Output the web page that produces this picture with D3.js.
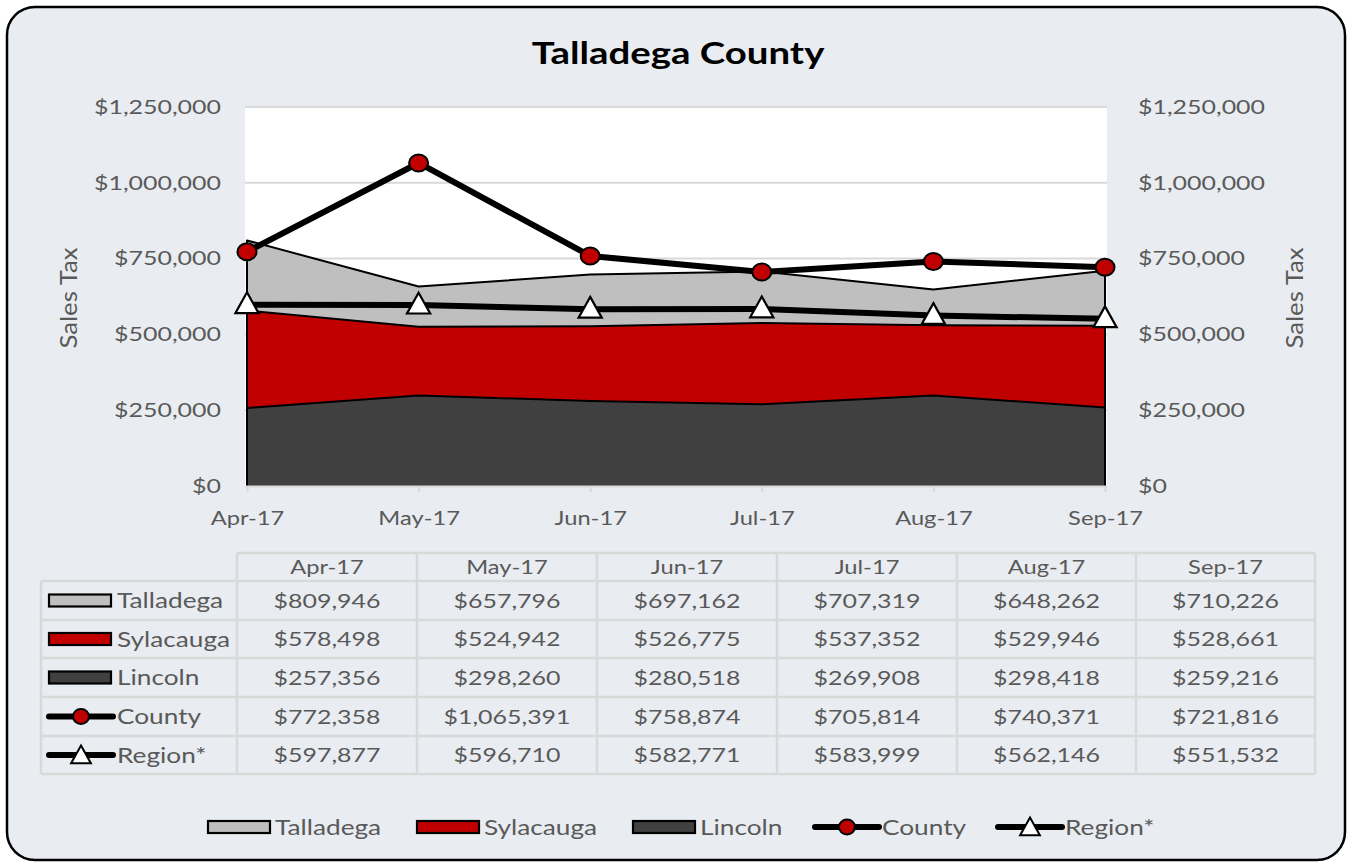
<!DOCTYPE html>
<html>
<head>
<meta charset="utf-8">
<script src="https://cdn.jsdelivr.net/npm/d3@7"></script>
<style>
  html, body { margin: 0; padding: 0; background: #ffffff; }
  svg { display: block; }
  text { font-family: Lato, "Open Sans", sans-serif; }
</style>
</head>
<body>
<svg id="chart" width="1348" height="863"></svg>
<script>
// Monthly sales tax figures
const months = ["Apr-17", "May-17", "Jun-17", "Jul-17", "Aug-17", "Sep-17"];
const talladega = [809946, 657796, 697162, 707319, 648262, 710226];
const sylacauga = [578498, 524942, 526775, 537352, 529946, 528661];
const lincoln = [257356, 298260, 280518, 269908, 298418, 259216];
const county = [772358, 1065391, 758874, 705814, 740371, 721816];
const region = [597877, 596710, 582771, 583999, 562146, 551532];
const yTicks = [0, 250000, 500000, 750000, 1000000, 1250000];

const areaSeries = [
  { name: "Talladega", values: talladega, fill: "#BFBFBF" },
  { name: "Sylacauga", values: sylacauga, fill: "#C00000" },
  { name: "Lincoln", values: lincoln, fill: "#404040" }
];
const lineSeries = [
  { name: "County", values: county, marker: "circle" },
  { name: "Region*", values: region, marker: "triangle" }
];

const TEXT = "#595959";
const GRID = "#D9D9D9";
const SX = 1.28; // horizontal widening of the text face
const svg = d3.select("#chart");

// text helper: widened glyphs anchored at (x, y)
function label(parent, x, y, str, size, anchor, extra) {
  const t = parent.append("text")
    .attr("transform", `translate(${x},${y}) scale(${SX},1)`)
    .attr("text-anchor", anchor || "start")
    .attr("dominant-baseline", "central")
    .attr("font-size", size).attr("fill", TEXT)
    .text(str);
  if (extra) extra(t);
  return t;
}

// Outer rounded panel
svg.append("rect")
  .attr("x", 7).attr("y", 7).attr("width", 1338).attr("height", 853)
  .attr("rx", 28).attr("ry", 28)
  .attr("fill", "#E9ECF1").attr("stroke", "#000").attr("stroke-width", 2.5);

// Title
label(svg, 678, 52, "Talladega County", 30, "middle",
  t => t.attr("font-weight", 700).attr("fill", "#000"));

// Plot area
const plot = { left: 245, right: 1107, top: 107, bottom: 486 };
svg.append("rect")
  .attr("x", plot.left).attr("y", plot.top)
  .attr("width", plot.right - plot.left).attr("height", plot.bottom - plot.top)
  .attr("fill", "#fff");

const x = d3.scalePoint().domain(months).range([247, 1105]);
const y = d3.scaleLinear().domain([0, 1250000]).range([plot.bottom, plot.top]);
const money = d3.format("$,");

// Horizontal gridlines
svg.append("g")
  .selectAll("line")
  .data(yTicks.filter(d => d > 0))
  .join("line")
  .attr("x1", plot.left).attr("x2", plot.right)
  .attr("y1", d => y(d)).attr("y2", d => y(d))
  .attr("stroke", GRID).attr("stroke-width", 2);

// Overlapping areas, each from zero
const areaGen = d3.area()
  .x((d, i) => x(months[i]))
  .y0(y(0))
  .y1(d => y(d));
const outlineGen = vals => {
  const pts = [[x(months[0]), y(0)]]
    .concat(vals.map((v, i) => [x(months[i]), y(v)]))
    .concat([[x(months[months.length - 1]), y(0)]]);
  return d3.line()(pts);
};
areaSeries.forEach(s => {
  svg.append("path")
    .attr("d", areaGen(s.values))
    .attr("fill", s.fill);
  svg.append("path")
    .attr("d", outlineGen(s.values))
    .attr("fill", "none")
    .attr("stroke", "#000").attr("stroke-width", 2)
    .attr("stroke-linejoin", "round");
});

// widen axis tick labels in place
function widenTicks(g) {
  g.selectAll(".tick text").each(function () {
    const t = d3.select(this);
    const tx = +t.attr("x") || 0;
    t.attr("x", tx / SX).attr("transform", `scale(${SX},1)`)
      .attr("fill", TEXT).attr("font-family", "Lato, sans-serif");
  });
}

// Category axis along zero
const xAxis = svg.append("g").attr("transform", `translate(0,${plot.bottom})`)
  .call(d3.axisBottom(x).tickSize(6).tickPadding(20));
xAxis.select(".domain").attr("d", `M${plot.left},0.5H${plot.right}`)
  .attr("stroke", GRID).attr("stroke-width", 2);
xAxis.selectAll(".tick line").attr("stroke", GRID).attr("stroke-width", 2);
xAxis.selectAll(".tick text").attr("font-size", 18.5);
widenTicks(xAxis);

// Value axes on both sides
const yLeft = svg.append("g").attr("transform", `translate(${plot.left},0)`)
  .call(d3.axisLeft(y).tickValues(yTicks).tickFormat(money).tickSize(0).tickPadding(24));
const yRight = svg.append("g").attr("transform", `translate(${plot.right},0)`)
  .call(d3.axisRight(y).tickValues(yTicks).tickFormat(money).tickSize(0).tickPadding(31));
[yLeft, yRight].forEach(g => {
  g.select(".domain").remove();
  g.selectAll(".tick text").attr("font-size", 19.5);
  widenTicks(g);
});

// Axis titles
[68, 1294].forEach(cx => {
  svg.append("text")
    .attr("transform", `translate(${cx},${298}) rotate(-90) scale(1.12,1)`)
    .attr("text-anchor", "middle").attr("dominant-baseline", "central")
    .attr("font-size", 23).attr("fill", TEXT)
    .text("Sales Tax");
});

// Lines with markers
const lineGen = d3.line().x((d, i) => x(months[i])).y(d => y(d));
const triPath = (cx, cy, s) =>
  `M${cx},${cy - s * 0.62}L${cx + s * 0.58},${cy + s * 0.42}L${cx - s * 0.58},${cy + s * 0.42}Z`;

lineSeries.slice().reverse().forEach(s => {
  svg.append("path")
    .attr("d", lineGen(s.values))
    .attr("fill", "none").attr("stroke", "#000")
    .attr("stroke-width", 6).attr("stroke-linejoin", "round");
  const g = svg.append("g");
  s.values.forEach((v, i) => {
    const cx = x(months[i]), cy = y(v);
    if (s.marker === "circle") {
      g.append("ellipse").attr("cx", cx).attr("cy", cy).attr("rx", 9.5).attr("ry", 8.5)
        .attr("fill", "#C00000").attr("stroke", "#000").attr("stroke-width", 2);
    } else {
      g.append("path").attr("d", triPath(cx, cy, 20))
        .attr("fill", "#fff").attr("stroke", "#000").attr("stroke-width", 2.2)
        .attr("stroke-linejoin", "miter");
    }
  });
});

// Legend key glyphs
function drawKey(g, s, kx, cy) {
  if (s.fill) {
    g.append("rect").attr("x", kx).attr("y", cy - 6).attr("width", 62).attr("height", 12)
      .attr("fill", s.fill).attr("stroke", "#000").attr("stroke-width", 2.2);
  } else {
    g.append("line").attr("x1", kx).attr("x2", kx + 64).attr("y1", cy).attr("y2", cy)
      .attr("stroke", "#000").attr("stroke-width", 6).attr("stroke-linecap", "round");
    const mx = kx + 32;
    if (s.marker === "circle") {
      g.append("ellipse").attr("cx", mx).attr("cy", cy).attr("rx", 8).attr("ry", 7.5)
        .attr("fill", "#C00000").attr("stroke", "#000").attr("stroke-width", 2);
    } else {
      g.append("path").attr("d", triPath(mx, cy + 1, 17))
        .attr("fill", "#fff").attr("stroke", "#000").attr("stroke-width", 2);
    }
  }
}

// Data table
const colEdges = [237, 417, 597, 777, 957, 1136, 1315];
const rowEdges = [553, 581, 620, 658, 697, 736, 774];
const labelLeft = 41;
const tableRows = areaSeries.concat(lineSeries);
const table = svg.append("g");

// cell borders
table.append("path")
  .attr("d", () => {
    let d = `M${colEdges[0]},${rowEdges[0]}H${colEdges[6]}`;
    for (let r = 1; r < rowEdges.length; r++) d += `M${labelLeft},${rowEdges[r]}H${colEdges[6]}`;
    d += `M${colEdges[0]},${rowEdges[0]}V${rowEdges[6]}`;
    for (let c = 1; c < colEdges.length; c++) d += `M${colEdges[c]},${rowEdges[0]}V${rowEdges[6]}`;
    d += `M${labelLeft},${rowEdges[1]}V${rowEdges[6]}`;
    return d;
  })
  .attr("fill", "none").attr("stroke", GRID).attr("stroke-width", 2.5);

months.forEach((m, c) => {
  label(table, (colEdges[c] + colEdges[c + 1]) / 2, (rowEdges[0] + rowEdges[1]) / 2,
    m, 18.5, "middle");
});
tableRows.forEach((s, r) => {
  const cy = (rowEdges[r + 1] + rowEdges[r + 2]) / 2;
  drawKey(table, s, 49, cy);
  label(table, 117, cy, s.name, 20.5, "start");
  s.values.forEach((v, c) => {
    label(table, (colEdges[c] + colEdges[c + 1]) / 2, cy, money(v), 19.5, "middle");
  });
});

// Bottom legend
const legendX = [208, 417, 633, 815, 998];
const legend = svg.append("g");
tableRows.forEach((s, i) => {
  drawKey(legend, s, legendX[i], 827);
  label(legend, legendX[i] + 67, 827, s.name, 20.5, "start");
});
</script>
</body>
</html>
